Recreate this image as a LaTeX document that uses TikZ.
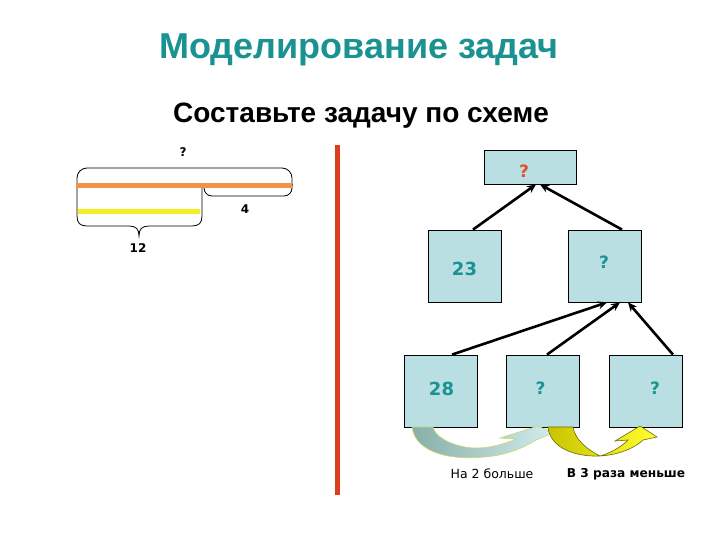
\documentclass[tikz,border=0pt]{standalone}
\usepackage{fontspec}
\setmainfont{Liberation Sans}
\newfontfamily\dv{DejaVu Sans}
\usetikzlibrary{arrows.meta,calc}
\definecolor{teal1}{HTML}{1A9292}
\definecolor{boxfill}{HTML}{B9DFE3}
\definecolor{orangeL}{HTML}{F0924A}
\definecolor{yellowL}{HTML}{F4EE1E}
\definecolor{redL}{HTML}{DC3D1F}
\definecolor{qred}{HTML}{E0502E}
\definecolor{grA}{HTML}{87AFA8}
\definecolor{grB}{HTML}{D2ECEE}
\definecolor{grEdge}{HTML}{C8D868}
\definecolor{yeA}{HTML}{C8C400}
\definecolor{yeB}{HTML}{FFFF30}
\definecolor{yeEdge}{HTML}{6E6A00}
\tikzset{
  box/.style={draw=black, line width=0.8pt, fill=boxfill, minimum width=73pt, minimum height=72pt, inner sep=0pt},
  conn/.style={line width=2.6pt, -{Stealth[length=9pt,width=8pt]}},
  brk/.style={draw=black, line width=0.8pt},
  numtxt/.style={font=\dv\bfseries\fontsize{18}{20}\selectfont, text=teal1, inner sep=0pt},
  qtxt/.style={font=\dv\bfseries\fontsize{17}{20}\selectfont, text=teal1, inner sep=0pt},
  smalltxt/.style={font=\dv\bfseries\fontsize{12}{14}\selectfont, inner sep=0pt},
}
\begin{document}
\begin{tikzpicture}[x=1pt,y=-1pt]
\useasboundingbox[fill=white] (0,0) rectangle (720,540);
% titles
\node[font=\bfseries\fontsize{36}{40}\selectfont, text=teal1, inner sep=0pt] (title) at (359,50) {Моделирование задач};
\node[font=\bfseries\fontsize{28}{32}\selectfont, inner sep=0pt] (sub) at (361,116) {Составьте задачу по схеме};
% left schematic
\draw[brk, rounded corners=10pt] (77,186) |- (292,168) -- (292,186);
\draw[brk, rounded corners=8pt] (204,184) |- (292,196) -- (292,184);
\draw[brk] (77,184) -- (77,216) .. controls (77,223) and (80,226) .. (87,226) -- (129,226)
  .. controls (136,226) and (139,229) .. (139,236) .. controls (139,229) and (142,226) .. (149,226)
  -- (192,226) .. controls (199,226) and (202,223) .. (202,216) -- (202,184);
\draw[orangeL, line width=5pt] (76,186) -- (292,186);
\draw[yellowL, line width=5pt] (78,212) -- (200,212);
\node[smalltxt] (qleft) at (183,152) {?};
\node[smalltxt] (four) at (245,209) {4};
\node[smalltxt] (twelve) at (138,248) {12};
% red divider
\draw[redL, line width=5pt] (337,145) -- (337,495);
% boxes
\node[box, minimum width=92pt, minimum height=34pt] (top) at (530,167) {};
\node[box] (b23) at (464.5,266) {};
\node[box] (bq) at (605,266) {};
\node[box] (b28) at (441,391) {};
\node[box] (bq2) at (543,391) {};
\node[box] (bq3) at (645.5,391) {};
\node[font=\dv\bfseries\fontsize{17}{20}\selectfont, text=qred, inner sep=0pt] (tq) at (524,171.5) {?};
\node[numtxt] (t23) at (464.5,269) {23};
\node[qtxt] (tq1) at (604,262) {?};
\node[numtxt] (t28) at (441.5,388.5) {28};
\node[qtxt] (tq2) at (540.5,388) {?};
\node[qtxt] (tq3) at (655,388) {?};
% connectors
\draw[conn] ($(b23.north)+(8.5,0)$) -- ($(top.south)+(6,0)$);
\draw[conn] ($(bq.north)+(17,0)$) -- ($(top.south)+(10,0)$);
\draw[conn] ($(b28.north)+(11,0)$) -- ($(bq.south)+(2,0)$);
\draw[conn] ($(bq2.north)+(4,0)$) -- ($(bq.south)+(15,0)$);
\draw[conn] ($(bq3.north)+(27.5,0)$) -- ($(bq.south)+(23,0)$);
% curved arrows
\draw[draw=grEdge, line width=0.6pt, left color=grA, right color=grB]
  (412,427) .. controls (416,455) and (455,460) .. (485,457)
  .. controls (508,455) and (525,447) .. (536,440) -- (553,433) -- (538,426) -- (500,438) -- (516,439)
  .. controls (500,446) and (480,450) .. (465,447)
  .. controls (445,443) and (435,435) .. (433,427) -- cycle;
\draw[draw=yeEdge, line width=0.6pt, left color=yeA, right color=yeB]
  (548,427) .. controls (550,448) and (575,457) .. (600,456)
  .. controls (618,455) and (635,448) .. (643,440) -- (657,437) -- (640,426) -- (615,441) -- (628,440)
  .. controls (620,448) and (610,453) .. (600,456)
  .. controls (588,450) and (575,440) .. (573,427) -- cycle;
% labels
\node[font=\dv\fontsize{12.5}{14}\selectfont, inner sep=0pt] (l1) at (492,474) {На 2 больше};
\node[font=\dv\bfseries\fontsize{12.2}{14}\selectfont, inner sep=0pt] (l2) at (626,474) {В 3 раза меньше};
\end{tikzpicture}
\end{document}
